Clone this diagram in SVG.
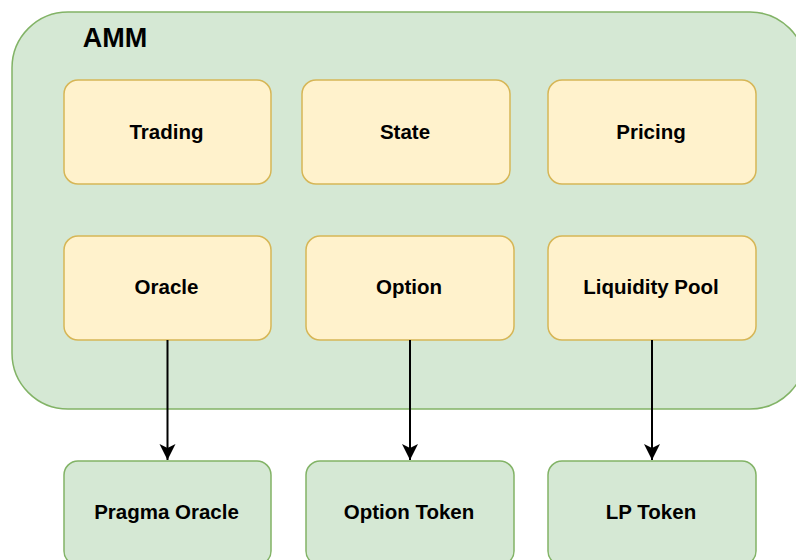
<svg xmlns="http://www.w3.org/2000/svg" width="796" height="560" viewBox="0 0 796 560">
  <defs>
    <style>
      .container { fill: #d5e8d4; stroke: #82b366; stroke-width: 1.5; }
      .module { fill: #fff2cc; stroke: #d6b656; stroke-width: 1.5; }
      .external { fill: #d5e8d4; stroke: #82b366; stroke-width: 1.5; }
      .label { font-family: "Liberation Sans", Arial, sans-serif; font-weight: bold; font-size: 20.5px; fill: #000; text-anchor: middle; }
      .title { font-family: "Liberation Sans", Arial, sans-serif; font-weight: bold; font-size: 27px; fill: #000; text-anchor: middle; }
      .edge { fill: none; stroke: #000; stroke-width: 2; }
    </style>
    <marker id="arrow" markerUnits="userSpaceOnUse" markerWidth="18" markerHeight="18" refX="16" refY="8" orient="auto">
      <path d="M16,8 L0,0 L4,8 L0,16 Z" fill="#000"/>
    </marker>
  </defs>

  <g id="amm">
    <rect class="container" x="12" y="12" width="794" height="397" rx="56" ry="56"/>
    <text class="title" x="115" y="47">AMM</text>
  </g>

  <g id="trading">
    <rect class="module" x="64" y="80" width="207" height="104" rx="14" ry="14"/>
    <text class="label" x="166.5" y="139">Trading</text>
  </g>
  <g id="state">
    <rect class="module" x="302" y="80" width="208" height="104" rx="14" ry="14"/>
    <text class="label" x="405" y="139">State</text>
  </g>
  <g id="pricing">
    <rect class="module" x="548" y="80" width="208" height="104" rx="14" ry="14"/>
    <text class="label" x="651" y="139">Pricing</text>
  </g>

  <g id="oracle">
    <rect class="module" x="64" y="236" width="207" height="104" rx="14" ry="14"/>
    <text class="label" x="166.5" y="294">Oracle</text>
  </g>
  <g id="option">
    <rect class="module" x="306" y="236" width="208" height="104" rx="14" ry="14"/>
    <text class="label" x="409" y="294">Option</text>
  </g>
  <g id="liquidity-pool">
    <rect class="module" x="548" y="236" width="208" height="104" rx="14" ry="14"/>
    <text class="label" x="651" y="294">Liquidity Pool</text>
  </g>

  <g id="pragma-oracle">
    <rect class="external" x="64" y="461" width="207" height="104" rx="14" ry="14"/>
    <text class="label" x="166.5" y="519">Pragma Oracle</text>
  </g>
  <g id="option-token">
    <rect class="external" x="306" y="461" width="208" height="104" rx="14" ry="14"/>
    <text class="label" x="409" y="519">Option Token</text>
  </g>
  <g id="lp-token">
    <rect class="external" x="548" y="461" width="208" height="104" rx="14" ry="14"/>
    <text class="label" x="651" y="519">LP Token</text>
  </g>

  <g id="connectors">
    <path class="edge" d="M167.5,340 L167.5,460" marker-end="url(#arrow)"/>
    <path class="edge" d="M410,340 L410,460" marker-end="url(#arrow)"/>
    <path class="edge" d="M652,340 L652,460" marker-end="url(#arrow)"/>
  </g>
</svg>
